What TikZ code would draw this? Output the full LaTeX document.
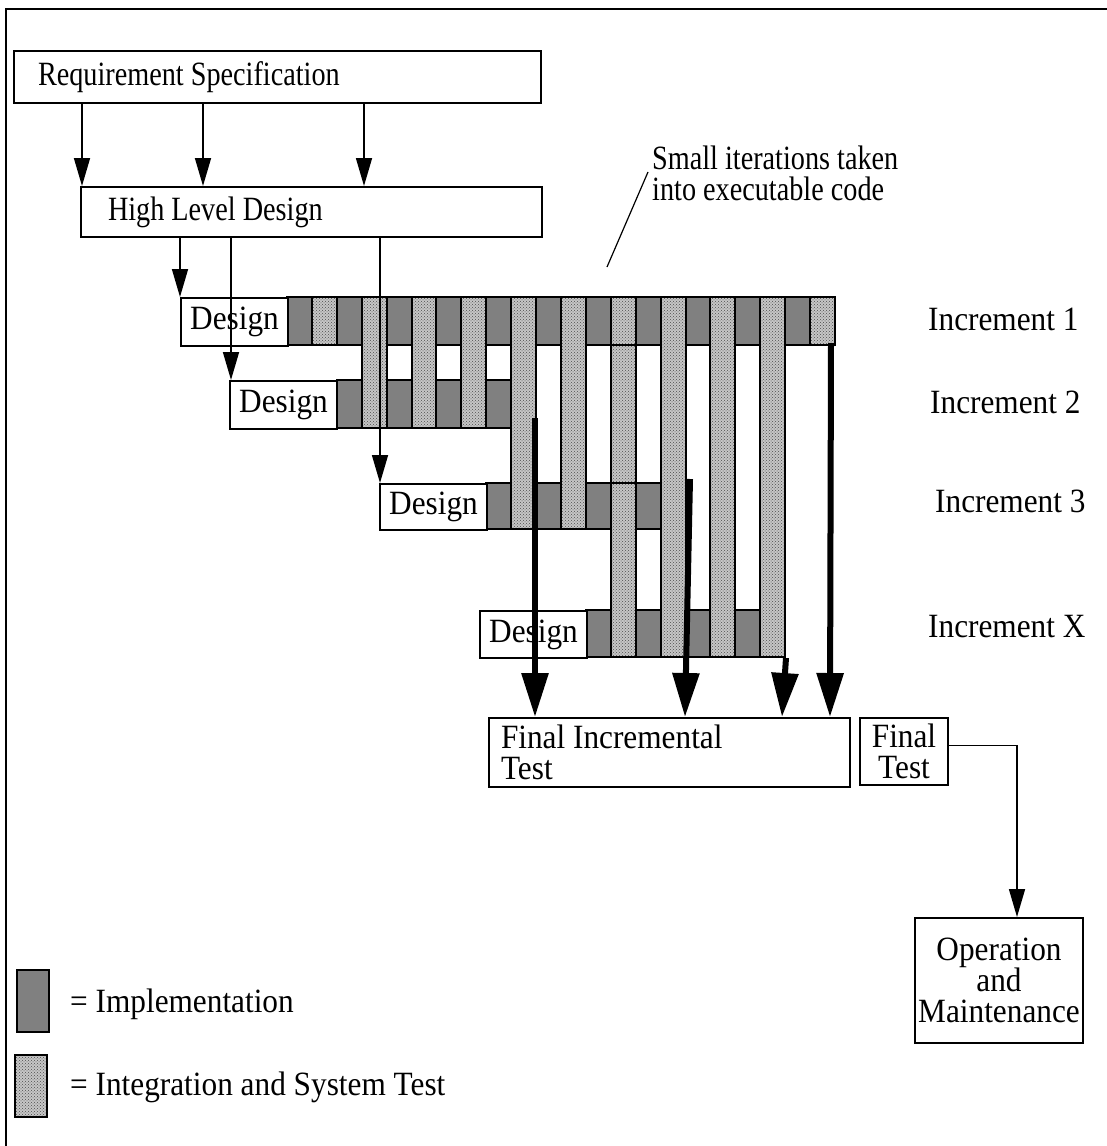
\documentclass[tikz,border=0pt]{standalone}
\usepackage{fontspec}
\setmainfont{Liberation Serif}[FakeStretch=0.92]
\newfontfamily\narrowserif{Liberation Serif}[FakeStretch=0.83]
\usetikzlibrary{arrows.meta,patterns,calc}

\tikzset{
  every node/.style={font=\fontsize{34}{31}\selectfont, inner sep=0pt},
  narrow/.style={font=\narrowserif\fontsize{34}{31}\selectfont},
  box/.style={draw, line width=2pt, anchor=north west},
  impl/.style={draw, line width=2pt, fill=gray},
  integ/.style={draw, line width=2pt, preaction={fill=gray!45},
                pattern=crosshatch dots, pattern color=black!70},
  thinarrow/.style={line width=1.6pt, -{Triangle[width=16pt,length=28pt]}},
  heavyarrow/.style={line width=6pt, -{Triangle[width=26pt,length=44pt]}},
  pointer/.style={line width=1.2pt},
}

% cell width of the iteration bars and left edge of the first cell
\def\cw{24.909}
\def\cx#1{287+\cw*(#1)}

\begin{document}
\begin{tikzpicture}[x=1pt,y=-1pt]
\useasboundingbox (0,0) rectangle (1107,1146);

% outer frame
\draw[line width=1.6pt] (6,9) rectangle (1140,1180);

% top level boxes
\node[box, narrow, minimum height=52pt, inner xsep=24pt, text width=479pt, align=flush left]
  (req) at (13,50) {Requirement Specification};
\node[box, narrow, minimum height=50pt, inner xsep=27pt, text width=407pt, align=flush left]
  (hld) at (80,186) {High Level Design};

\foreach \x in {82,203,364}
  \draw[thinarrow] (\x,0 |- req.south) -- (\x,0 |- hld.north);

% implementation cells (dark)
\foreach \k in {0,2,...,20}
  \draw[impl] ({\cx{\k}},297) rectangle ({\cx{\k+1}},345);
\foreach \k in {2,4,6,8}
  \draw[impl] ({\cx{\k}},380) rectangle ({\cx{\k+1}},428);
\foreach \k in {8,10,12,14}
  \draw[impl] ({\cx{\k}},483) rectangle ({\cx{\k+1}},529);
\foreach \k in {12,14,16,18}
  \draw[impl] ({\cx{\k}},610) rectangle ({\cx{\k+1}},657);

% integration and system test cells (hatched), spanning increments
\foreach \k in {1,21}
  \draw[integ] ({\cx{\k}},297) rectangle ({\cx{\k+1}},345);
\foreach \k in {3,5,7}
  \draw[integ] ({\cx{\k}},297) rectangle ({\cx{\k+1}},428);
\foreach \k in {9,11}
  \draw[integ] ({\cx{\k}},297) rectangle ({\cx{\k+1}},529);
\foreach \k in {15,17,19}
  \draw[integ] ({\cx{\k}},297) rectangle ({\cx{\k+1}},657);
\draw[integ] ({\cx{13}},297) rectangle ({\cx{14}},345);
\draw[integ] ({\cx{13}},345) rectangle ({\cx{14}},483);
\draw[integ] ({\cx{13}},483) rectangle ({\cx{14}},657);

% design boxes of the increments
\node[box, fill=white, minimum width=107pt, minimum height=48pt] (d1) at (180,297) {Design};
\node[box, fill=white, minimum width=107pt, minimum height=48pt] (d2) at (229,380) {Design};
\node[box, fill=white, minimum width=107pt, minimum height=46pt] (d3) at (379,483) {Design};
\node[box, fill=white, minimum width=107pt, minimum height=47pt] (dx) at (479,610) {Design};

\coordinate (a1) at (d1.north west);
\coordinate (a2) at ($(d2.north west)+(2,0)$);
\coordinate (a3) at ($(d3.north west)+(1,0)$);
\foreach \a in {a1,a2,a3}
  \draw[thinarrow] (\a |- hld.south) -- (\a);

% increment labels
\node[anchor=base west] (inc1) at (928,330) {Increment 1};
\node[anchor=base west] (inc2) at (930,413) {Increment 2};
\node[anchor=base west] (inc3) at (935,512) {Increment 3};
\node[anchor=base west] (incx) at (928,637) {Increment X};

% annotation
\node[narrow, anchor=north west, align=flush left] (note) at (652,146)
  {Small iterations taken\\into executable code};
\coordinate (ptrtop) at (648,172);
\coordinate (ptrend) at (607,267);
\draw[pointer] (ptrtop) -- (ptrend);

% final testing and operation
\node[box, minimum height=69pt, inner xsep=12pt, text width=337pt, align=flush left]
  (fit) at (488,717) {Final Incremental\\Test};
\node[box, minimum width=88pt, minimum height=67pt, align=center]
  (ft) at (859,717) {Final\\Test};
\node[box, minimum width=168pt, minimum height=125pt, align=center]
  (op) at (914,917) {Operation\\and\\Maintenance};

% increments delivered into the final incremental test
\coordinate (h1) at (535,418);
\coordinate (h2) at (690,479);
\coordinate (h3) at (786,658);
\coordinate (h4) at (831,343);
\draw[heavyarrow] (h1) -- (h1 |- fit.north);
\draw[heavyarrow] (h2) -- (685,0 |- fit.north);
\draw[heavyarrow] (h3) -- (782,0 |- fit.north);
\draw[heavyarrow] (h4) -- (830,0 |- fit.north);

\draw[thinarrow] ($(ft.east)+(0,-6)$) -| (1017,0 |- op.north);

% legend
\draw[impl] (17,970) rectangle (49,1032);
\node[anchor=base west] (lgimpl) at (70,1012) {= Implementation};
\draw[integ] (15,1055) rectangle (47,1117);
\node[anchor=base west] (lginteg) at (70,1095) {= Integration and System Test};
\end{tikzpicture}
\end{document}
